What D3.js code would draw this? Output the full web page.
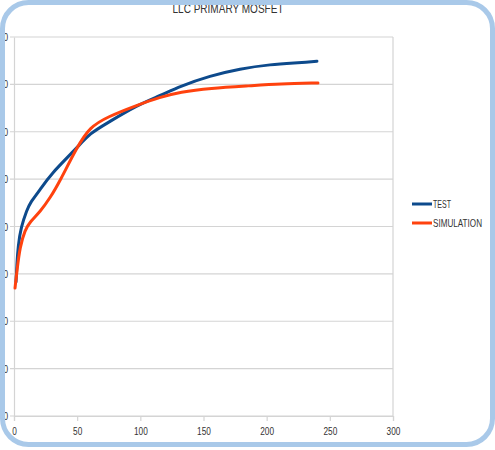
<!DOCTYPE html>
<html>
<head>
<style>
  body { margin: 0; background: #ffffff; }
  text { font-family: "Liberation Sans Narrow", "Liberation Sans", Arial, sans-serif; fill: #333333; }
</style>
</head>
<body>
<script src="https://cdn.jsdelivr.net/npm/d3@7"></script>
<script>
var title = 'LLC PRIMARY MOSFET';
var seriesNames = ['TEST', 'SIMULATION'];
var seriesColors = ['#0d4a8c', '#ff420e'];
var xTicks = [0, 50, 100, 150, 200, 250, 300];
var yTicks = [0, 10, 20, 30, 40, 50, 60, 70, 80];

var testX = [1.6, 2.4, 3.2, 5.5, 10.3, 12.7, 20.6, 28.5, 49.9, 60.2, 73.6, 97.4, 115.6, 131.4, 155.1, 178.9, 202.6, 226.4, 239.8];
var testY = [28.3, 32.5, 35.7, 39.9, 43.5, 45.0, 47.7, 50.9, 56.6, 59.7, 61.8, 65.6, 67.6, 69.6, 71.8, 73.3, 74.2, 74.6, 74.9];
var simX = [0.8, 2.4, 4.7, 8.7, 12.7, 20.6, 28.5, 36.4, 49.9, 60.2, 73.6, 97.4, 115.6, 131.4, 155.1, 186.8, 210.6, 240.6];
var simY = [27.0, 30.8, 35.7, 39.3, 41.0, 43.1, 46.0, 49.6, 56.8, 61.0, 63.1, 65.6, 67.3, 68.4, 69.2, 69.7, 70.1, 70.3];

var W = 495, H = 450;
var svg = d3.select('body').append('svg')
    .attr('width', W).attr('height', H);

var plot = { left: 14, right: 393, top: 37, bottom: 416 };

var x = d3.scaleLinear().domain([0, 300]).range([plot.left, plot.right]);
var y = d3.scaleLinear().domain([0, 80]).range([plot.bottom, plot.top]);

// grid
svg.append('g').selectAll('line')
    .data(yTicks).enter().append('line')
    .attr('x1', plot.left - 4).attr('x2', plot.right)
    .attr('y1', function (d) { return y(d); })
    .attr('y2', function (d) { return y(d); })
    .attr('stroke', '#d4d4d4').attr('stroke-width', 1.2);

svg.append('line')
    .attr('x1', plot.right).attr('x2', plot.right)
    .attr('y1', plot.top).attr('y2', plot.bottom)
    .attr('stroke', '#d4d4d4').attr('stroke-width', 1.2);

var xAxis = d3.axisBottom(x).tickValues(xTicks).tickSize(5).tickPadding(6);
var gx = svg.append('g')
    .attr('transform', 'translate(0,' + plot.bottom + ')')
    .call(xAxis);
gx.select('.domain').attr('stroke', '#d4d4d4').attr('stroke-width', 1.2);
gx.selectAll('.tick line').attr('stroke', '#d4d4d4').attr('stroke-width', 1.2);
gx.selectAll('text').style('font-size', '11px').attr('fill', '#333')
    .attr('textLength', function (d) { return String(d).length * 4.6; })
    .attr('lengthAdjust', 'spacingAndGlyphs');

var yAxis = d3.axisLeft(y).tickValues(yTicks).tickSize(0).tickPadding(6);
var gy = svg.append('g')
    .attr('transform', 'translate(' + plot.left + ',0)')
    .call(yAxis);
gy.select('.domain').attr('stroke', '#d4d4d4').attr('stroke-width', 1.2);
gy.selectAll('text').style('font-size', '11px').attr('fill', '#333')
    .attr('textLength', function (d) { return String(d).length * 4.6; })
    .attr('lengthAdjust', 'spacingAndGlyphs');

// series
var line = d3.line()
    .x(function (d) { return x(d[0]); })
    .y(function (d) { return y(d[1]); })
    .curve(d3.curveBasis);

var series = [d3.zip(testX, testY), d3.zip(simX, simY)];
svg.append('g').selectAll('path')
    .data(series).enter().append('path')
    .attr('d', line)
    .attr('fill', 'none')
    .attr('stroke', function (d, i) { return seriesColors[i]; })
    .attr('stroke-width', 3)
    .attr('stroke-linecap', 'round');

// legend
var legendWidths = [18, 49];
var legend = svg.append('g').selectAll('g')
    .data(seriesNames).enter().append('g')
    .attr('transform', function (d, i) { return 'translate(412,' + (204 + i * 19) + ')'; });
legend.append('line')
    .attr('x1', 0).attr('x2', 20)
    .attr('stroke', function (d, i) { return seriesColors[i]; })
    .attr('stroke-width', 3);
legend.append('text')
    .attr('x', 21).attr('dy', '0.35em')
    .style('font-size', '11px')
    .attr('textLength', function (d, i) { return legendWidths[i]; })
    .attr('lengthAdjust', 'spacingAndGlyphs')
    .text(function (d) { return d; });

// title
svg.append('text')
    .attr('x', 228).attr('y', 13)
    .attr('text-anchor', 'middle')
    .style('font-size', '13px')
    .attr('textLength', 111)
    .attr('lengthAdjust', 'spacingAndGlyphs')
    .text(title);

// frame
svg.append('rect')
    .attr('x', 2.5).attr('y', 2.5)
    .attr('width', 490).attr('height', 442)
    .attr('rx', 26).attr('ry', 26)
    .attr('fill', 'none')
    .attr('stroke', '#a9c9e9')
    .attr('stroke-width', 5);
</script>
</body>
</html>
